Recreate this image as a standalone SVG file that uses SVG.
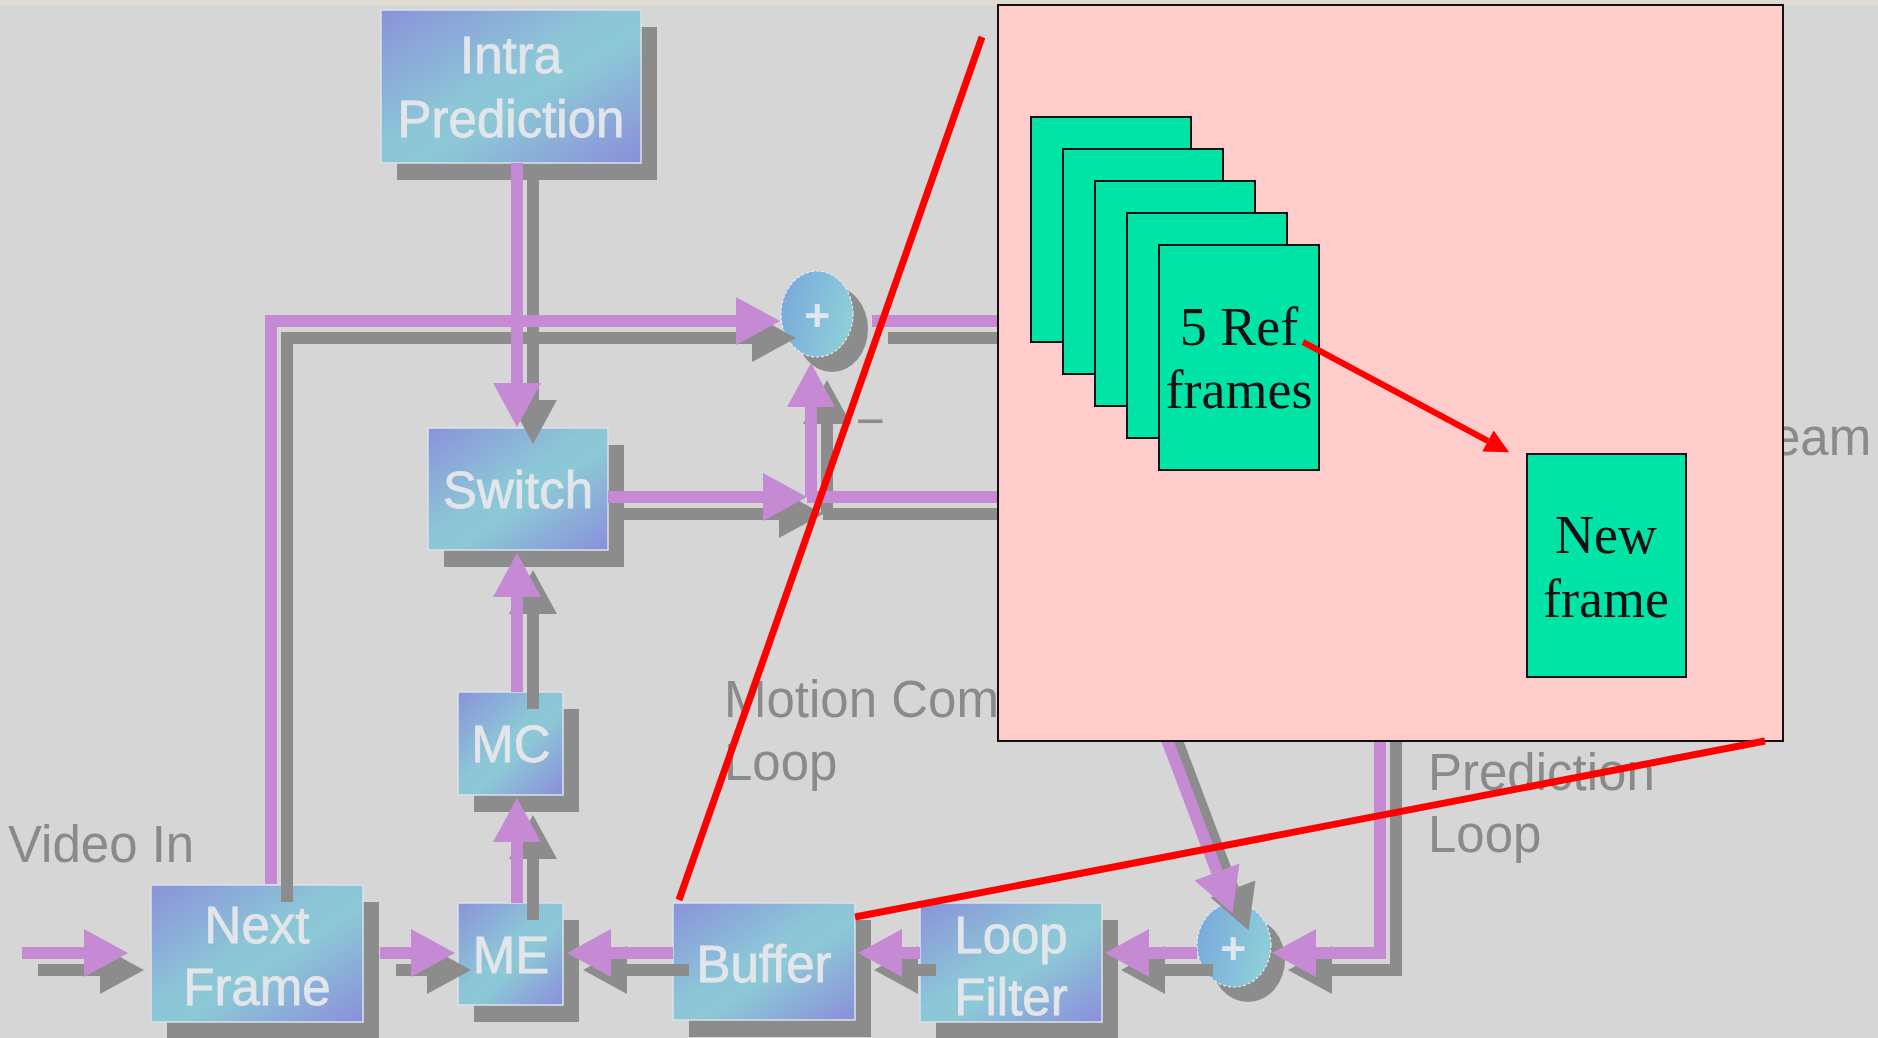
<svg xmlns="http://www.w3.org/2000/svg" width="1878" height="1038" viewBox="0 0 1878 1038">
  <defs>
    <linearGradient id="boxGrad" x1="0" y1="0" x2="1" y2="1">
      <stop offset="0" stop-color="#8a92da"/>
      <stop offset="0.45" stop-color="#8cc6d7"/>
      <stop offset="0.58" stop-color="#8cc8d6"/>
      <stop offset="1" stop-color="#8a8edb"/>
    </linearGradient>
    <linearGradient id="sumGrad" x1="0" y1="0" x2="1" y2="0.3">
      <stop offset="0" stop-color="#78a6dc"/>
      <stop offset="1" stop-color="#8ccdd8"/>
    </linearGradient>
    <marker id="ahPink" markerUnits="userSpaceOnUse" viewBox="0 0 44 48" markerWidth="44" markerHeight="48" refX="0" refY="24" orient="auto" overflow="visible">
      <path d="M0,0 L44,24 L0,48 z" fill="#c68ad4"/>
    </marker>
    <marker id="ahGray" markerUnits="userSpaceOnUse" viewBox="0 0 44 48" markerWidth="44" markerHeight="48" refX="0" refY="24" orient="auto" overflow="visible">
      <path d="M0,0 L44,24 L0,48 z" fill="#8c8c8c"/>
    </marker>
    <marker id="ahRed" markerUnits="userSpaceOnUse" viewBox="0 0 24 24" markerWidth="24" markerHeight="24" refX="0" refY="12" orient="auto" overflow="visible">
      <path d="M0,0 L24,12 L0,24 z" fill="#ff0000"/>
    </marker>
    <style>
      .bg { fill: #d6d6d6; }
      .box { fill: url(#boxGrad); stroke: #d9e2ea; stroke-width: 1.5; }
      .shadow { fill: #8c8c8c; }
      .sum { fill: url(#sumGrad); stroke: #e4ecf2; stroke-width: 1.2; stroke-dasharray: 3 2; }
      .btxt { font-family: "Liberation Sans", Arial, sans-serif; font-size: 51px; fill: #e2e5e9; text-anchor: middle; stroke: #e2e5e9; stroke-width: 0.8; }
      .plus { font-family: "Liberation Sans", Arial, sans-serif; font-size: 44px; font-weight: bold; fill: #e0e8ee; text-anchor: middle; }
      .lbl { font-family: "Liberation Sans", Arial, sans-serif; font-size: 51px; fill: #8a8a8a; }
      .minus { font-family: "Liberation Sans", Arial, sans-serif; font-size: 50px; fill: #8c8c8c; text-anchor: middle; }
      .pk { fill: none; stroke: #c68ad4; stroke-width: 12; marker-end: url(#ahPink); }
      .pk0 { fill: none; stroke: #c68ad4; stroke-width: 12; }
      .gy { fill: none; stroke: #8c8c8c; stroke-width: 12; marker-end: url(#ahGray); }
      .gy0 { fill: none; stroke: #8c8c8c; stroke-width: 12; }
      .frame { fill: #00e4a8; stroke: #111111; stroke-width: 2; }
      .ftxt { font-family: "Liberation Serif", "Times New Roman", serif; font-size: 54px; fill: #111111; text-anchor: middle; }
      .red { stroke: #ff0000; stroke-width: 7; fill: none; }
    </style>
  </defs>

  <!-- backdrop -->
  <rect class="bg" x="0" y="0" width="1878" height="1038"/>
  <rect x="0" y="0" width="1878" height="5" fill="#e0dbcf"/>

  <!-- encoder blocks -->
  <g id="intra-prediction">
    <rect class="shadow" x="397" y="27" width="260" height="153"/>
    <rect class="box" x="381" y="10" width="260" height="153"/>
    <text class="btxt" x="511" y="73">Intra</text>
    <text class="btxt" x="511" y="137">Prediction</text>
  </g>
  <g id="switch">
    <rect class="shadow" x="444" y="445" width="180" height="122"/>
    <rect class="box" x="428" y="428" width="180" height="122"/>
    <text class="btxt" x="518" y="508">Switch</text>
  </g>
  <g id="mc">
    <rect class="shadow" x="474" y="709" width="105" height="103"/>
    <rect class="box" x="458" y="692" width="105" height="103"/>
    <text class="btxt" x="511" y="762">MC</text>
  </g>
  <g id="me">
    <rect class="shadow" x="474" y="920" width="105" height="102"/>
    <rect class="box" x="458" y="903" width="105" height="102"/>
    <text class="btxt" x="511" y="973">ME</text>
  </g>
  <g id="next-frame">
    <rect class="shadow" x="167" y="902" width="212" height="137"/>
    <rect class="box" x="151" y="885" width="212" height="137"/>
    <text class="btxt" x="257" y="943">Next</text>
    <text class="btxt" x="257" y="1005">Frame</text>
  </g>
  <g id="buffer">
    <rect class="shadow" x="689" y="920" width="182" height="117"/>
    <rect class="box" x="673" y="903" width="182" height="117"/>
    <text class="btxt" x="764" y="982">Buffer</text>
  </g>
  <g id="loop-filter">
    <rect class="shadow" x="936" y="920" width="182" height="119"/>
    <rect class="box" x="920" y="903" width="182" height="119"/>
    <text class="btxt" x="1011" y="953">Loop</text>
    <text class="btxt" x="1011" y="1015">Filter</text>
  </g>
  <g id="sum-top">
    <ellipse class="shadow" cx="832" cy="329" rx="36" ry="43"/>
    <ellipse class="sum" cx="817" cy="314" rx="36" ry="43"/>
  </g>
  <g id="sum-bottom">
    <ellipse class="shadow" cx="1248" cy="960" rx="37" ry="42"/>
    <ellipse class="sum" cx="1234" cy="945" rx="37" ry="42"/>
  </g>

  <!-- connectors: grey drop shadows first, then the lines themselves -->
  <g id="connectors">
    <g transform="translate(16,17)">
      <path class="gy" d="M22,953 H84"/>
      <path class="gy" d="M380,953 H411"/>
      <path class="gy" d="M673,953 H611"/>
      <path class="gy" d="M920,953 H902"/>
      <path class="gy" d="M1197,953 H1149"/>
      <path class="gy" d="M1380,700 V953 H1316"/>
      <path class="gy" d="M1152,700 L1217,872"/>
      <path class="gy" d="M271,885 V321 H736"/>
      <path class="gy0" d="M872,321 H1010"/>
      <path class="gy" d="M517,163 V383"/>
      <path class="gy" d="M608,497 H763"/>
      <path class="gy0" d="M807,497 H1010"/>
      <path class="gy" d="M811,497 V407"/>
      <path class="gy" d="M517,692 V597"/>
      <path class="gy" d="M517,903 V842"/>
    </g>
    <g>
      <path class="pk" d="M22,953 H84"/>
      <path class="pk" d="M380,953 H411"/>
      <path class="pk" d="M673,953 H611"/>
      <path class="pk" d="M920,953 H902"/>
      <path class="pk" d="M1197,953 H1149"/>
      <path class="pk" d="M1380,700 V953 H1316"/>
      <path class="pk" d="M1152,700 L1217,872"/>
      <path class="pk" d="M271,884 V321 H736"/>
      <path class="pk0" d="M872,321 H1010"/>
      <path class="pk" d="M517,163 V383"/>
      <path class="pk" d="M608,497 H763"/>
      <path class="pk0" d="M807,497 H1010"/>
      <path class="pk" d="M811,497 V407"/>
      <path class="pk" d="M517,692 V597"/>
      <path class="pk" d="M517,903 V842"/>
    </g>
  </g>

  <!-- signs on the summing points -->
  <text class="plus" x="817" y="331">+</text>
  <text class="plus" x="1233" y="964">+</text>
  <text class="minus" x="870" y="438">−</text>

  <!-- loop labels -->
  <text class="lbl" x="8" y="862">Video In</text>
  <text class="lbl" x="724" y="717">Motion Com</text>
  <text class="lbl" x="724" y="780">Loop</text>
  <text class="lbl" x="1428" y="790">Prediction</text>
  <text class="lbl" x="1428" y="852">Loop</text>
  <text class="lbl" x="1772" y="455">eam</text>

  <!-- callout panel: multiple reference frames -->
  <g id="callout">
    <rect x="998" y="5" width="785" height="736" fill="#ffcccc" stroke="#111111" stroke-width="2"/>
  </g>
  <g id="ref-frames">
    <rect class="frame" x="1031" y="117" width="160" height="225"/>
    <rect class="frame" x="1063" y="149" width="160" height="225"/>
    <rect class="frame" x="1095" y="181" width="160" height="225"/>
    <rect class="frame" x="1127" y="213" width="160" height="225"/>
    <rect class="frame" x="1159" y="245" width="160" height="225"/>
    <text class="ftxt" x="1239" y="345">5 Ref</text>
    <text class="ftxt" x="1239" y="408">frames</text>
  </g>
  <g id="new-frame">
    <rect class="frame" x="1527" y="454" width="159" height="223"/>
    <text class="ftxt" x="1606" y="553">New</text>
    <text class="ftxt" x="1606" y="617">frame</text>
  </g>
  <g id="callout-links">
    <path d="M1303,342 L1488,441" stroke="#ff0000" stroke-width="6" fill="none" marker-end="url(#ahRed)"/>
    <line class="red" x1="679" y1="900" x2="982" y2="37"/>
    <line class="red" x1="855" y1="917" x2="1765" y2="741"/>
  </g>
</svg>
